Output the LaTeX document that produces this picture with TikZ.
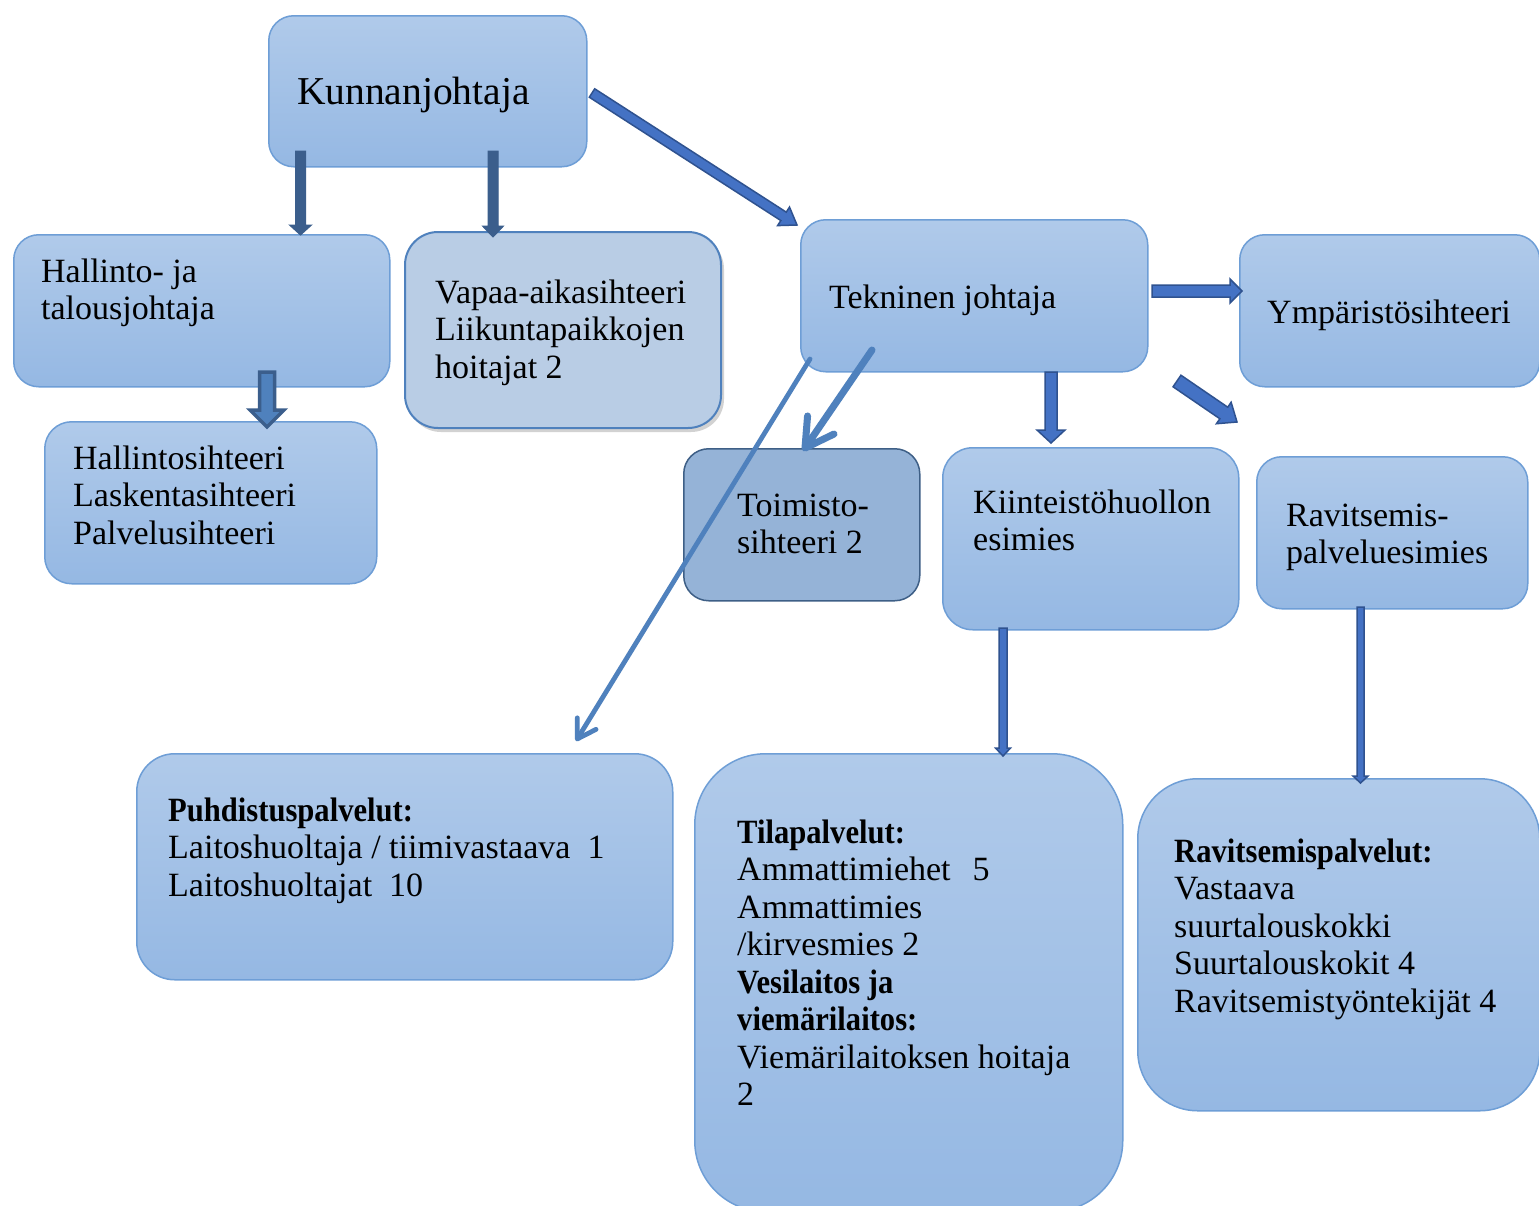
\documentclass[tikz,border=0pt]{standalone}
\usepackage{fontspec}
\setmainfont{Liberation Serif}
\newfontfamily\hdfont{Liberation Serif}[FakeStretch=0.9]
\usetikzlibrary{calc,arrows.meta,shadows}
\definecolor{gtop}{RGB}{176,202,234}
\definecolor{gbot}{RGB}{149,184,227}
\definecolor{bdr}{RGB}{110,158,214}
\definecolor{vfill}{RGB}{185,205,229}
\definecolor{vbdr}{RGB}{79,129,189}
\definecolor{tfill}{RGB}{149,179,215}
\definecolor{tbdr}{RGB}{62,95,134}
\definecolor{steel}{RGB}{59,94,140}
\definecolor{bfill}{RGB}{68,114,196}
\definecolor{bline}{RGB}{47,82,143}
\definecolor{hfill}{RGB}{79,129,189}
\definecolor{cblue}{RGB}{79,129,189}
\newcommand\hd[1]{{\hdfont\bfseries #1}}
\newcommand\mlines[1]{\begin{tabular}[t]{@{}l@{}}#1\end{tabular}}
% block arrow: start, end, shaft half width, head half width, head length, style
\newcommand\blockarr[6]{%
  \coordinate (bhb) at ($(#2)!#5!(#1)$);
  \draw[#6] ($(#1)!#3!90:(#2)$) -- ($(bhb)!#3!-90:(#1)$) -- ($(bhb)!#4!-90:(#1)$)
    -- (#2) -- ($(bhb)!#4!90:(#1)$) -- ($(bhb)!#3!90:(#1)$) -- ($(#1)!#3!-90:(#2)$) -- cycle;}
\tikzset{
  box/.style={rectangle, rounded corners=#1, draw=bdr, line width=1.5pt,
    top color=gtop, bottom color=gbot, inner sep=0pt, anchor=north west},
  box/.default=25pt,
  txt/.style={inner sep=0pt, text=black, anchor=base west,
    font=\fontsize{34}{37.5}\selectfont},
  steelarr/.style={fill=steel, draw=steel, line width=1pt, line join=miter},
  bluearr/.style={fill=bfill, draw=bline, line width=1.5pt, line join=miter},
  harr/.style={fill=hfill, draw=steel, line width=3.5pt, line join=miter},
  chevthick/.style={draw=cblue, line width=7pt, line cap=round,
    -{Straight Barb[length=28pt, width=32pt, round]}},
  chevthin/.style={draw=cblue, line width=4.8pt, line cap=round,
    -{Straight Barb[length=18pt, width=22pt, round]}}
}
\begin{document}
\begin{tikzpicture}[x=1pt, y=-1pt]
\clip (0,0) rectangle (1539,1205);
\fill[white] (0,0) rectangle (1539,1205);

% boxes
\node[box, minimum width=318pt, minimum height=151pt] (kunn) at (268,15) {};
\node[box, minimum width=376pt, minimum height=152pt] (hall) at (13,234) {};
\node[box=33pt, minimum width=316pt, minimum height=196pt, draw=vbdr, line width=2pt,
  top color=vfill, bottom color=vfill,
  drop shadow={shadow xshift=3pt, shadow yshift=-4pt, opacity=0.35}] (vapaa) at (404,231) {};
\node[box, minimum width=347pt, minimum height=152pt] (tekn) at (800,219) {};
\node[box, minimum width=300pt, minimum height=152pt] (ymp) at (1239,234) {};
\node[box=27pt, minimum width=332pt, minimum height=162pt] (hsiht) at (44,421) {};
\node[box, minimum width=236pt, minimum height=152pt, draw=tbdr,
  top color=tfill, bottom color=tfill] (toim) at (683,448) {};
\node[box=30pt, minimum width=296pt, minimum height=182pt] (kiint) at (942,447) {};
\node[box, minimum width=271pt, minimum height=152pt] (ravits) at (1256,456) {};
\node[box=38pt, minimum width=536pt, minimum height=226pt] (puhd) at (136,753) {};
\node[box=71pt, minimum width=428pt, minimum height=458pt] (tila) at (694,753) {};
\node[box=60pt, minimum width=402pt, minimum height=332pt] (ravsp) at (1137,778) {};

% texts
\node[txt, font=\fontsize{39.5}{43}\selectfont] (kunn-t) at (297,104) {Kunnanjohtaja};
\node[txt] (hall-t) at (41,282) {\mlines{Hallinto- ja\\talousjohtaja}};
\node[txt] (vapaa-t) at (435,303) {\mlines{Vapaa-aikasihteeri\\Liikuntapaikkojen\\hoitajat 2}};
\node[txt] (tekn-t) at (829,308) {Tekninen johtaja};
\node[txt] (ymp-t) at (1267,323) {Ympäristösihteeri};
\node[txt] (hsiht-t) at (73,469) {\mlines{Hallintosihteeri\\Laskentasihteeri\\Palvelusihteeri}};
\node[txt] (toim-t) at (737,516) {\mlines{Toimisto-\\sihteeri 2}};
\node[txt] (kiint-t) at (973,513) {\mlines{Kiinteistöhuollon\\esimies}};
\node[txt] (ravits-t) at (1286,526) {\mlines{Ravitsemis-\\palveluesimies}};
\node[txt] (puhd-t) at (168,821) {\mlines{\hd{Puhdistuspalvelut:}\\
  Laitoshuoltaja / tiimivastaava\hspace{0.5em}1\\Laitoshuoltajat\hspace{0.5em}10}};
\node[txt] (tila-t) at (737,843) {\mlines{\hd{Tilapalvelut:}\\Ammattimiehet\hspace{0.65em}5\\
  Ammattimies\\/kirvesmies 2\\\hd{Vesilaitos ja}\\\hd{viemärilaitos:}\\
  Viemärilaitoksen hoitaja\\2}};
\node[txt] (ravsp-t) at (1174,862) {\mlines{\hd{Ravitsemispalvelut:}\\Vastaava\\
  suurtalouskokki\\Suurtalouskokit 4\\Ravitsemistyöntekijät 4}};

% connector end points
\coordinate (a1s) at (300.5,151); \coordinate (a1e) at (300.5,235);
\coordinate (a2s) at (493,151);   \coordinate (a2e) at (493,237);
\coordinate (a3s) at (592,93);    \coordinate (a3e) at (797,225);
\coordinate (a4s) at (267,372);   \coordinate (a4e) at (267,427);
\coordinate (a5s) at (1152,291);  \coordinate (a5e) at (1242,291);
\coordinate (a6s) at (1051,372);  \coordinate (a6e) at (1051,443);
\coordinate (a7s) at (1177,381);  \coordinate (a7e) at (1237,422);
\coordinate (a8s) at (1003,628);  \coordinate (a8e) at (1003,756);
\coordinate (a9s) at (1360.5,607); \coordinate (a9e) at (1360.5,783);
\coordinate (c1s) at (872,350);   \coordinate (c1e) at (803,451);
\coordinate (c2s) at (810,359);   \coordinate (c2e) at (576,741);

% block arrows
\blockarr{a1s}{a1e}{5pt}{11pt}{10pt}{steelarr}
\blockarr{a2s}{a2e}{5pt}{10.5pt}{11pt}{steelarr}
\blockarr{a3s}{a3e}{5pt}{11pt}{16pt}{bluearr}
\blockarr{a4s}{a4e}{7.5pt}{17pt}{17pt}{harr}
\blockarr{a5s}{a5e}{6pt}{12pt}{12pt}{bluearr}
\blockarr{a6s}{a6e}{6pt}{14pt}{13pt}{bluearr}
\blockarr{a7s}{a7e}{7pt}{13pt}{16pt}{bluearr}
\blockarr{a8s}{a8e}{4pt}{7.5pt}{8pt}{bluearr}
\blockarr{a9s}{a9e}{3.5pt}{7.5pt}{7pt}{bluearr}

% line arrows
\draw[chevthick] (c1s) -- (c1e);
\draw[chevthin] (c2s) -- (c2e);
\end{tikzpicture}
\end{document}
